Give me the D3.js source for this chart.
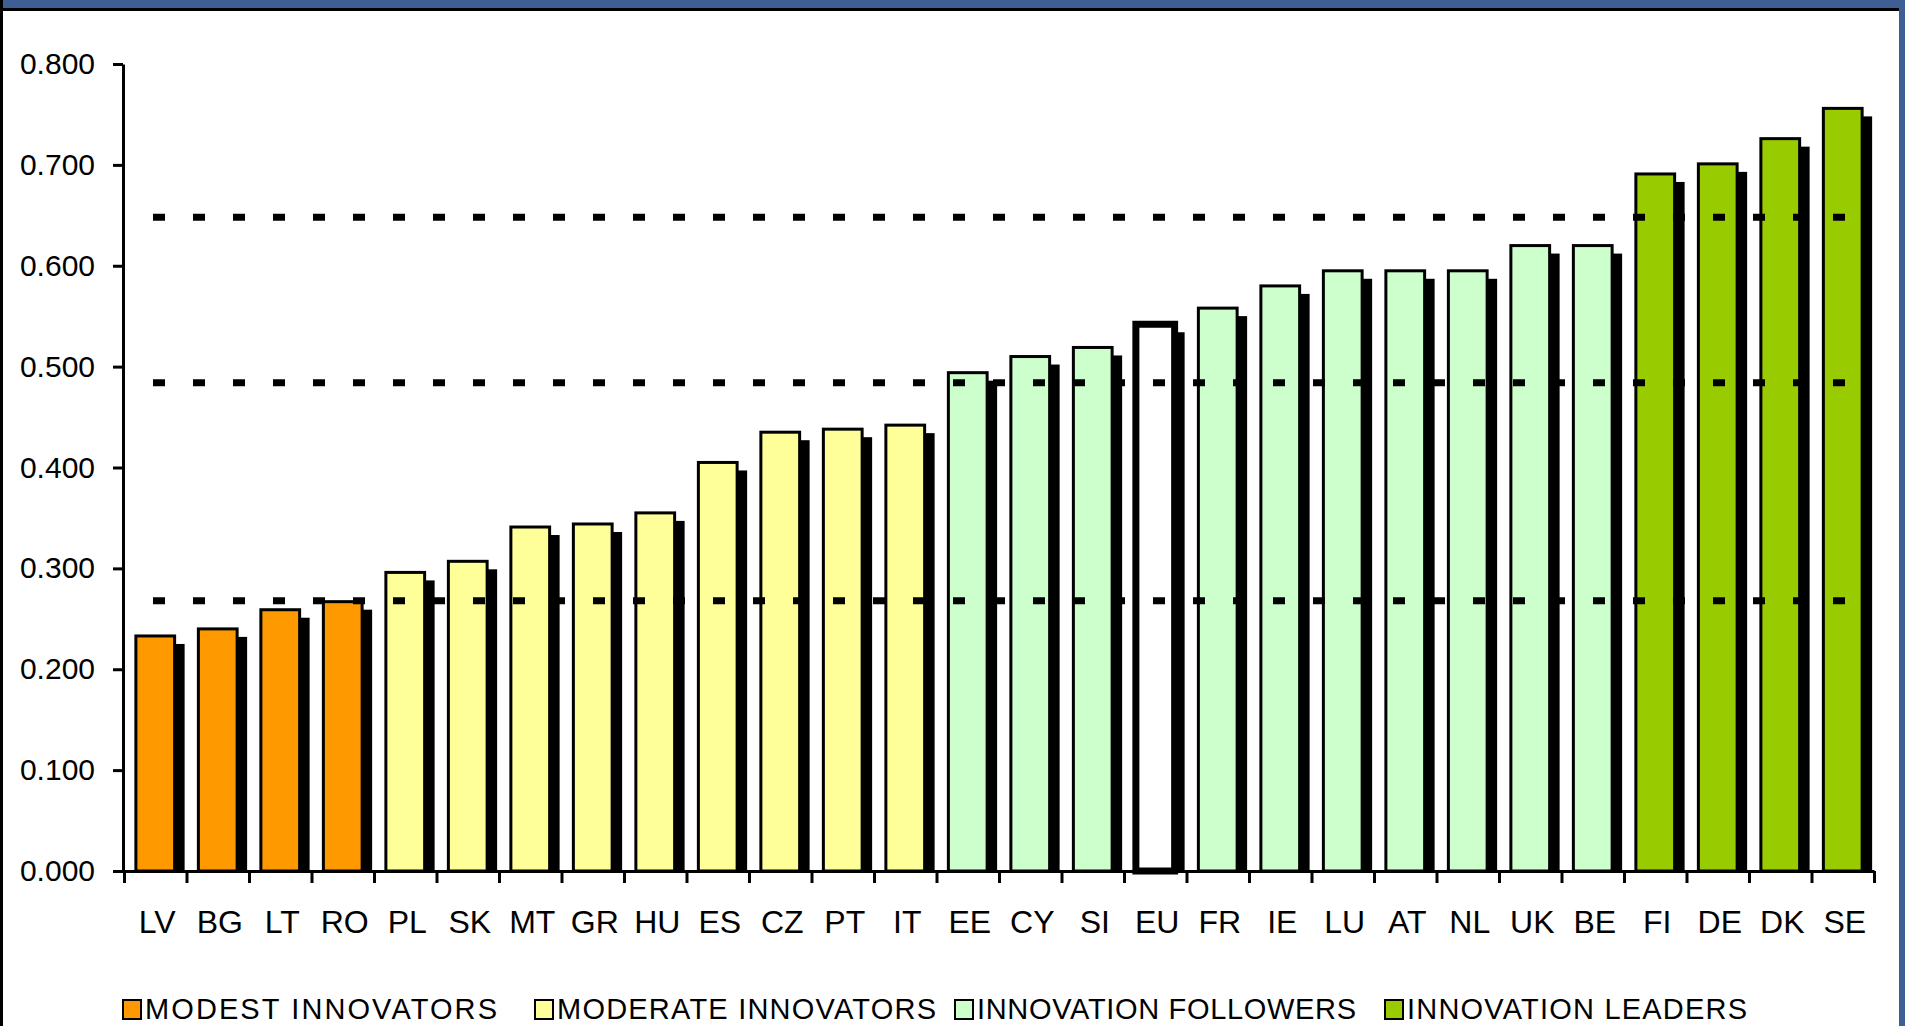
<!DOCTYPE html>
<html>
<head>
<style>
  body { margin: 0; background: #fff; overflow: hidden; }
  text { font-family: "Liberation Sans", Arial, sans-serif; fill: #000; }
</style>
<script src="https://d3js.org/d3.v7.min.js"></script>
</head>
<body>
<svg id="chart" width="1905" height="1026"></svg>
<script>
// values
const countries = ["LV","BG","LT","RO","PL","SK","MT","GR","HU","ES","CZ","PT","IT",
                   "EE","CY","SI","EU","FR","IE","LU","AT","NL","UK","BE","FI","DE","DK","SE"];
const scores = [0.233,0.240,0.259,0.267,0.296,0.307,0.341,0.344,0.355,0.405,0.435,0.438,0.442,
                0.494,0.510,0.519,0.542,0.558,0.580,0.595,0.595,0.595,0.620,0.620,0.691,0.701,0.726,0.756];
// -1 = EU average (white bar)
const groupOf = [0,0,0,0,1,1,1,1,1,1,1,1,1,2,2,2,-1,2,2,2,2,2,2,2,3,3,3,3];
const groupNames = ["MODEST INNOVATORS","MODERATE INNOVATORS","INNOVATION FOLLOWERS","INNOVATION LEADERS"];
const groupColors = ["#ff9900","#ffff99","#ccffcc","#99cc00"];
const thresholds = [0.268, 0.484, 0.648];
const yTicks = [0, 0.1, 0.2, 0.3, 0.4, 0.5, 0.6, 0.7, 0.8];

const svg = d3.select("#chart");

// slide frame
svg.append("rect").attr("x", 0).attr("y", 0).attr("width", 1905).attr("height", 8).attr("fill", "#3d5f93");
svg.append("rect").attr("x", 0).attr("y", 8).attr("width", 1905).attr("height", 3).attr("fill", "#000");
svg.append("rect").attr("x", 0).attr("y", 0).attr("width", 3).attr("height", 1026).attr("fill", "#000");
svg.append("rect").attr("x", 1899).attr("y", 0).attr("width", 6).attr("height", 1026).attr("fill", "#3d5f93");

var plotLeft = 124, plotRight = 1874, plotTop = 64, plotBase = 871;

const x = d3.scaleBand()
  .domain(countries)
  .range([plotLeft, plotRight])
  .paddingInner(0.38)
  .paddingOuter(0.19);

const y = d3.scaleLinear()
  .domain([0, 0.8])
  .range([plotBase, plotTop]);

const tickPos = d3.scaleLinear()
  .domain([0, countries.length])
  .range([plotLeft, plotRight]);

var data = countries.map((c, i) => ({ c: c, v: scores[i], g: groupOf[i] }));

// shadows
svg.append("g").selectAll("rect")
  .data(data)
  .enter()
  .append("rect")
  .attr("x", d => x(d.c) + 10)
  .attr("y", d => y(d.v) + 8)
  .attr("width", x.bandwidth())
  .attr("height", d => plotBase - y(d.v) - 8)
  .attr("fill", "#000");

// bars
svg.append("g").selectAll("rect")
  .data(data)
  .enter()
  .append("rect")
  .attr("x", d => x(d.c))
  .attr("y", d => y(d.v))
  .attr("width", x.bandwidth())
  .attr("height", d => plotBase - y(d.v))
  .attr("fill", d => d.g < 0 ? "#fff" : groupColors[d.g])
  .attr("stroke", "#000")
  .attr("stroke-width", d => d.g < 0 ? 7 : 3);

// group boundary lines
svg.append("g").selectAll("line")
  .data(thresholds)
  .enter()
  .append("line")
  .attr("x1", 153)
  .attr("x2", 1850)
  .attr("y1", d => y(d))
  .attr("y2", d => y(d))
  .attr("stroke", "#000")
  .attr("stroke-width", 7)
  .attr("stroke-dasharray", "12,28");

// y axis
var yAxis = svg.append("g")
  .attr("transform", "translate(" + (plotLeft - 1) + ",0)")
  .call(d3.axisLeft(y).tickValues(yTicks).tickFormat(d3.format(".3f")).tickSize(10).tickSizeOuter(0).tickPadding(18));
yAxis.select(".domain").attr("stroke-width", 3);
yAxis.selectAll(".tick line").attr("stroke-width", 3);
yAxis.selectAll("text").attr("font-size", 30).attr("font-family", "Liberation Sans, Arial, sans-serif");

// x axis with ticks between categories
var xAxis = svg.append("g")
  .attr("transform", "translate(0," + plotBase + ")")
  .call(d3.axisBottom(tickPos).tickValues(d3.range(countries.length + 1)).tickFormat("").tickSize(12).tickSizeOuter(0));
xAxis.select(".domain").attr("stroke-width", 3);
xAxis.selectAll(".tick line").attr("stroke-width", 3);

svg.append("g").selectAll("text")
  .data(countries)
  .enter()
  .append("text")
  .attr("x", d => x(d) + x.bandwidth() / 2 + 2)
  .attr("y", 933)
  .attr("text-anchor", "middle")
  .attr("font-size", 32)
  .text(d => d);

// legend, items placed and spaced as in the original slide
var legendX = [123, 535, 955, 1385];
var legendW = [352, 379, 379, 340];
groupNames.forEach(function(name, i) {
  svg.append("rect")
    .attr("x", legendX[i])
    .attr("y", 1000)
    .attr("width", 18)
    .attr("height", 19)
    .attr("fill", groupColors[i])
    .attr("stroke", "#000")
    .attr("stroke-width", 2);
  svg.append("text")
    .attr("x", legendX[i] + 22)
    .attr("y", 1019)
    .attr("font-size", 29)
    .attr("textLength", legendW[i])
    .attr("lengthAdjust", "spacing")
    .text(name);
});
</script>
</body>
</html>
